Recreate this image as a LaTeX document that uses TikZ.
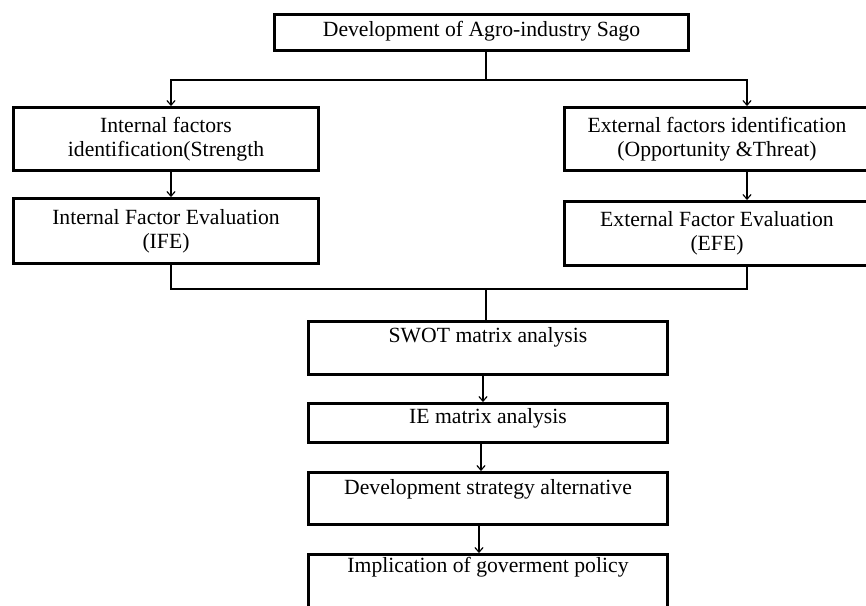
\documentclass[tikz,border=0pt]{standalone}
\usepackage{fontspec}
\setmainfont{Liberation Serif}
\usetikzlibrary{arrows.meta}
\begin{document}
\begin{tikzpicture}[x=0.03cm,y=-0.03cm,
  box/.style={draw, line width=2.5pt, inner sep=1pt, align=center,
    font=\fontsize{18.5}{20.4}\selectfont},
  wide/.style={minimum width=9.15cm},
  mid/.style={minimum width=10.77cm},
  conn/.style={line width=1pt},
  arr/.style={conn, -{Straight Barb[length=4pt,width=7pt]}}]
\useasboundingbox (0,0) rectangle (866,605);
\clip (0,0) rectangle (866,605);

\node[box, minimum width=12.42cm, minimum height=1.08cm, text height=12.6pt, text depth=6.5pt] (top) at (481.5,32.5) {Development of Agro-industry Sago};
\node[box, wide, minimum height=1.89cm] (l1) at (166,139) {Internal factors\\identification(Strength};
\node[box, wide, minimum height=1.95cm] (l2) at (166,231) {Internal Factor Evaluation\\(IFE)};
\node[box, wide, minimum height=1.89cm] (r1) at (717,139) {External factors identification\\(Opportunity \&Threat)};
\node[box, wide, minimum height=1.92cm] (r2) at (717,233.5) {External Factor Evaluation\\(EFE)};
\node[box, mid, minimum height=1.59cm, text height=12.6pt, text depth=22.7pt] (swot) at (488,348) {SWOT matrix analysis};
\node[box, mid, minimum height=1.17cm, text height=12.6pt, text depth=12.5pt] (ie) at (488,423) {IE matrix analysis};
\node[box, mid, minimum height=1.56cm, text height=12.6pt, text depth=20pt] (dev) at (488,498.5) {Development strategy alternative};
\node[box, mid, minimum height=1.65cm, text height=12.6pt, text depth=29.5pt] (impl) at (488,582) {Implication of goverment policy};

\coordinate (ja) at (486,80);
\coordinate (jb) at (486,289);
\coordinate (cl) at (171,0);
\coordinate (cr) at (747,0);
\coordinate (c1) at (483,0);
\coordinate (c2) at (481,0);
\coordinate (c3) at (479,0);

\draw[conn] (top.south -| ja) -- (ja);
\draw[arr] (ja) -| (l1.north -| cl);
\draw[arr] (ja) -| (r1.north -| cr);
\draw[arr] (l1.south -| cl) -- (l2.north -| cl);
\draw[arr] (r1.south -| cr) -- (r2.north -| cr);
\draw[conn] (l2.south -| cl) |- (jb) -| (r2.south -| cr);
\draw[conn] (jb) -- (swot.north -| jb);
\draw[arr] (swot.south -| c1) -- (ie.north -| c1);
\draw[arr] (ie.south -| c2) -- (dev.north -| c2);
\draw[arr] (dev.south -| c3) -- (impl.north -| c3);
\end{tikzpicture}
\end{document}
